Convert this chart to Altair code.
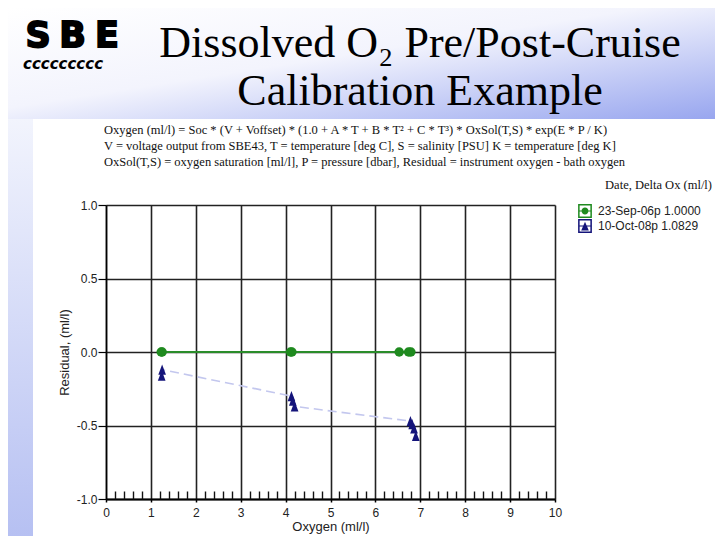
import altair as alt
import pandas as pd

# ---------------- data ----------------
series_labels = ["23-Sep-06p 1.0000", "10-Oct-08p 1.0829"]
series_colors = ["#1f8a1f", "#14147a"]

pre_oxygen = [1.23, 1.25, 4.11, 4.14, 6.53, 6.74, 6.79]
pre_residual = [0.0, 0.0, 0.0, 0.0, 0.0, 0.0, 0.0]

post_oxygen = [1.24, 1.25, 4.13, 4.16, 4.20, 6.78, 6.82, 6.86, 6.90]
post_residual = [-0.16, -0.12, -0.30, -0.33, -0.37, -0.47, -0.49, -0.52, -0.57]

x_ticks = [0, 1, 2, 3, 4, 5, 6, 7, 8, 9, 10]
x_minor_ticks = [0.2, 0.4, 0.6, 0.8, 1.2, 1.4, 1.6, 1.8, 2.2, 2.4, 2.6, 2.8,
                 3.2, 3.4, 3.6, 3.8, 4.2, 4.4, 4.6, 4.8, 5.2, 5.4, 5.6, 5.8,
                 6.2, 6.4, 6.6, 6.8, 7.2, 7.4, 7.6, 7.8, 8.2, 8.4, 8.6, 8.8,
                 9.2, 9.4, 9.6, 9.8]
y_ticks = [-1.0, -0.5, 0.0, 0.5, 1.0]

equation_lines = [
    "Oxygen (ml/l) = Soc * (V + Voffset) * (1.0 + A * T + B * T\u00b2 + C * T\u00b3) * OxSol(T,S) * exp(E * P / K)",
    "V = voltage output from SBE43, T = temperature [deg C], S = salinity [PSU] K = temperature [deg K]",
    "OxSol(T,S) = oxygen saturation [ml/l], P = pressure [dbar], Residual = instrument oxygen - bath oxygen",
]
title_lines = ["Dissolved O\u2082 Pre/Post-Cruise", "Calibration Example"]
logo_letters = ["S", "B", "E"]
logo_waves = "ccccccccc"
legend_title = "Date, Delta Ox (ml/l)"

pre_df = pd.DataFrame({"oxygen": pre_oxygen, "residual": pre_residual,
                       "series": series_labels[0]})
post_df = pd.DataFrame({"oxygen": post_oxygen, "residual": post_residual,
                        "series": series_labels[1]})
all_df = pd.concat([pre_df, post_df], ignore_index=True)

W, H = 449, 294
PAD = {"left": 98, "top": 197, "right": 160, "bottom": 37}

xs = alt.Scale(domain=[0, 10], nice=False, zero=False)
ys = alt.Scale(domain=[-1, 1], nice=False, zero=False)

SANS = "Liberation Sans"
SERIF = "Liberation Serif"

one = alt.Data(values=[{}])

# ------------- slide decoration -------------
top_bg = alt.Chart(one).mark_rect(
    fill=alt.Gradient(gradient="linear", x1=0, y1=0, x2=1, y2=1,
                      stops=[alt.GradientStop(offset=0, color="#ffffff"),
                             alt.GradientStop(offset=0.45, color="#f3f4fd"),
                             alt.GradientStop(offset=1, color="#98a6ef")])
).encode(x=alt.value(-PAD["left"]), x2=alt.value(W + PAD["right"]),
         y=alt.value(-PAD["top"]), y2=alt.value(-86))

left_bg = alt.Chart(one).mark_rect(
    fill=alt.Gradient(gradient="linear", x1=0, y1=0, x2=0, y2=1,
                      stops=[alt.GradientStop(offset=0, color="#f2f4fd"),
                             alt.GradientStop(offset=1, color="#b6c0f2")])
).encode(x=alt.value(-PAD["left"]), x2=alt.value(-73),
         y=alt.value(-86), y2=alt.value(H + PAD["bottom"]))

logo_layers = []
for i, letter in enumerate(logo_letters):
    logo_layers.append(
        alt.Chart(one).mark_text(
            text=letter, font="DejaVu Sans", fontWeight="bold", fontSize=35,
            align="center", baseline="alphabetic", color="#000000",
            stroke="#000000", strokeWidth=1.8
        ).encode(x=alt.value(-68 + 34.5 * i), y=alt.value(-158))
    )

waves = alt.Chart(one).mark_text(
    text=logo_waves, font="DejaVu Sans", fontWeight="bold", fontStyle="italic",
    fontSize=15, align="left", baseline="middle", color="#000000"
).encode(x=alt.value(-83), y=alt.value(-141))

title1 = alt.Chart(one).mark_text(
    text=title_lines[0], font=SERIF, fontSize=44, align="center",
    baseline="alphabetic", color="#000000"
).encode(x=alt.value(314), y=alt.value(-148))

title2 = alt.Chart(one).mark_text(
    text=title_lines[1], font=SERIF, fontSize=44, align="center",
    baseline="alphabetic", color="#000000"
).encode(x=alt.value(314), y=alt.value(-100))

eq_layers = []
for i, line in enumerate(equation_lines):
    eq_layers.append(
        alt.Chart(one).mark_text(
            text=line, font=SERIF, fontSize=12.5, align="left",
            baseline="middle", color="#111111"
        ).encode(x=alt.value(-2), y=alt.value(-75 + 16 * i))
    )

legend_title_mark = alt.Chart(one).mark_text(
    text=legend_title, font=SERIF, fontSize=12.5, align="right",
    baseline="middle", color="#111111"
).encode(x=alt.value(606), y=alt.value(-20))

# ------------- axes -------------
x_main_axis = alt.Axis(
    values=x_ticks, title="Oxygen (ml/l)", grid=True, gridColor="#222222",
    gridWidth=1.6, domainColor="#000000", domainWidth=2, tickColor="#000000",
    tickSize=3, tickWidth=1.5, labelFont=SANS, labelFontSize=12,
    labelColor="#222222", labelPadding=5, labelFlush=False,
    titleFont=SANS, titleFontSize=13, titleFontWeight="normal",
    titleColor="#222222", titlePadding=2
)
x_minor_axis = alt.Axis(
    values=x_minor_ticks, orient="bottom", offset=-8, tickSize=8,
    tickColor="#111111", tickWidth=1.4, labels=False, domain=False,
    grid=False, title=None
)
y_axis = alt.Axis(
    values=y_ticks, title="Residual, (ml/l)", grid=True, gridColor="#222222",
    gridWidth=1.5, domainColor="#000000", domainWidth=1.5,
    tickColor="#000000", tickSize=8, tickWidth=1.2,
    labelExpr="datum.value < 0 ? '-' + format(-datum.value, '.1f') : format(datum.value, '.1f')",
    labelFont=SANS, labelFontSize=12, labelColor="#222222", labelPadding=1,
    titleFont=SANS, titleFontSize=13, titleFontWeight="normal",
    titleColor="#222222", titlePadding=5
)

# ------------- data layers -------------
axis_layer = alt.Chart(pre_df).mark_line(opacity=0).encode(
    x=alt.X("oxygen:Q", scale=xs, axis=x_main_axis),
    y=alt.Y("residual:Q", scale=ys, axis=y_axis),
)

minor_layer = alt.Chart(pre_df).mark_line(opacity=0).encode(
    x=alt.X("oxygen:Q", scale=xs, axis=x_minor_axis),
    y=alt.Y("residual:Q", scale=ys, axis=y_axis),
)

post_line = alt.Chart(post_df).mark_line(
    color="#c3c7ee", strokeWidth=1.6, strokeDash=[9, 5]
).encode(
    x=alt.X("oxygen:Q", scale=xs, axis=None),
    y=alt.Y("residual:Q", scale=ys, axis=y_axis),
    order="oxygen:Q",
)

pre_line = alt.Chart(pre_df).mark_line(
    color="#2a8c2a", strokeWidth=2.2
).encode(
    x=alt.X("oxygen:Q", scale=xs, axis=None),
    y=alt.Y("residual:Q", scale=ys, axis=y_axis),
    order="oxygen:Q",
)

pre_points = alt.Chart(pre_df).mark_point(
    filled=True, shape="circle", size=90, color=series_colors[0], opacity=1
).encode(
    x=alt.X("oxygen:Q", scale=xs, axis=None),
    y=alt.Y("residual:Q", scale=ys, axis=y_axis),
)

post_points = alt.Chart(post_df).mark_point(
    filled=True, shape="M0,-1L0.75,1L-0.75,1Z", size=105,
    color=series_colors[1], opacity=1
).encode(
    x=alt.X("oxygen:Q", scale=xs, axis=None),
    y=alt.Y("residual:Q", scale=ys, axis=y_axis),
)

frame = "M-1,-1L1,-1L1,1L-1,1Z M-0.78,-0.78L-0.78,0.78L0.78,0.78L0.78,-0.78Z "
bar = " M-0.78,-0.08L0.78,-0.08L0.78,0.08L-0.78,0.08Z"
circle_sym = frame + "M0,-0.5A0.5,0.5,0,1,1,0,0.5A0.5,0.5,0,1,1,0,-0.5Z" + bar
tri_sym = frame + "M0,-0.6L0.55,0.65L-0.55,0.65Z" + bar

legend_props = dict(
    title=None, orient="none", legendX=472, legendY=-1,
    symbolSize=190, symbolOpacity=1, symbolStrokeWidth=0,
    labelFont=SANS, labelFontSize=12, labelColor="#222222",
    labelOffset=6, rowPadding=1, padding=0,
)

legend_layer = alt.Chart(all_df).mark_point(filled=True, opacity=0).encode(
    color=alt.Color(
        "series:N",
        scale=alt.Scale(domain=series_labels, range=series_colors),
        legend=alt.Legend(**legend_props),
    ),
    shape=alt.Shape(
        "series:N",
        scale=alt.Scale(domain=series_labels, range=[circle_sym, tri_sym]),
        legend=alt.Legend(**legend_props),
    ),
)

chart = alt.layer(
    top_bg, left_bg, *logo_layers, waves, title1, title2, *eq_layers,
    legend_title_mark,
    axis_layer, minor_layer, post_line, pre_line, post_points, pre_points,
    legend_layer,
).resolve_axis(x="independent").properties(
    width=W, height=H, padding=PAD, autosize=alt.AutoSizeParams(type="none"),
    background="#ffffff",
).configure_view(stroke=None)

chart.save("out.html", embed_options={"renderer": "svg", "actions": False})
